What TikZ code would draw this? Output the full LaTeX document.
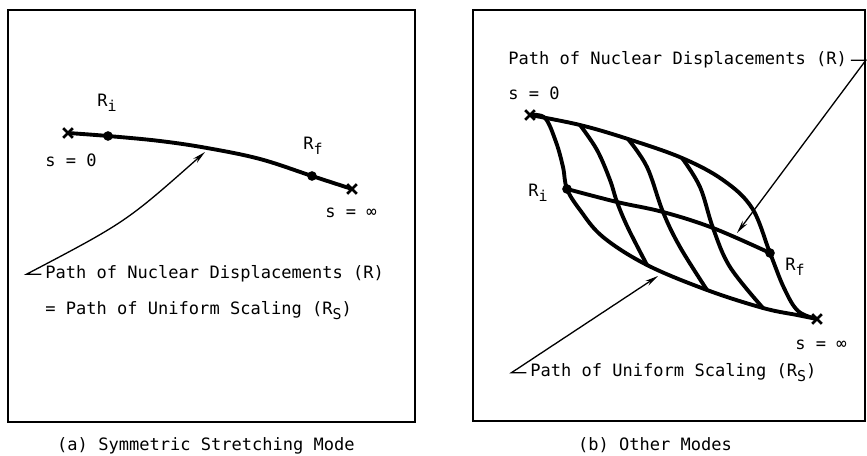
\documentclass[tikz,border=0pt]{standalone}
\usepackage{fontspec}
\newfontfamily\plotfont{DejaVu Sans Mono}
\usetikzlibrary{arrows.meta, shapes.misc}
\newcommand{\lowsub}[1]{\raisebox{-0.45ex}{\fontsize{8.5}{9}\selectfont #1}}

\begin{document}
\begin{tikzpicture}[x=0.02cm, y=-0.02cm, >={Stealth[length=7.5pt, width=3.2pt]},
    font=\plotfont\fontsize{9.7}{11}\selectfont,
    frame/.style={line width=1.7pt},
    track/.style={line width=2.2pt, line join=round, line cap=round},
    lead/.style={line width=0.75pt},
    dot/.style={circle, fill, inner sep=0pt, minimum size=5.5pt},
    xmark/.style={cross out, draw, line width=1.5pt, inner sep=0pt, minimum size=4pt},
    lbl/.style={anchor=base west, inner sep=0pt}]
\useasboundingbox (0,0) rectangle (867,456);

% (a) symmetric stretching
\draw[frame] (8,10) rectangle (415,422);
\coordinate (a0) at (68,133);
\coordinate (aRi) at (108,136);
\coordinate (aMid) at (207,148);
\coordinate (aRf) at (312,176);
\coordinate (a1) at (352,189);
\draw[track] plot[smooth, tension=0.6] coordinates {(a0) (aRi) (160,141) (aMid) (260,159) (aRf) (a1)};
\node[xmark] (a0x) at (a0) {};
\node[xmark] (a1x) at (a1) {};
\node[dot] (aRidot) at (aRi) {};
\node[dot] (aRfdot) at (aRf) {};

\node[lbl] (aRiLab) at (97,107) {R\lowsub{i}};
\node[lbl] (aRfLab) at (303,150) {R\lowsub{f}};
\node[lbl] (aS0) at (45,167) {s = 0};
\node[lbl] (aSinf) at (325,218) {s = ∞};
\node[lbl] (aLab1) at (45,279) {Path of Nuclear Displacements (R)};
\node[lbl] (aLab2) at (45,315) {= Path of Uniform Scaling (R\lowsub{S})};
\coordinate (aTip) at (205,152);
\draw[lead,->] ([xshift=-2pt]aLab1.west) -- ++(-15,0) coordinate (aKnee) .. controls (126,222) .. (aTip);

\node[anchor=base] (capA) at (206,451) {(a) Symmetric Stretching Mode};

% (b) other modes
\draw[frame] (473,10) rectangle (865,421);
\coordinate (bS) at (530,115);
\coordinate (bE) at (817,319);
\coordinate (bRi) at (567,189);
\coordinate (bRf) at (770,253);
\coordinate (T1) at (580,125);
\coordinate (T2) at (628,139);
\coordinate (T3) at (682,158);
\coordinate (C1) at (617,202);
\coordinate (C2) at (663,212);
\coordinate (C3) at (713,228);
\coordinate (B1) at (647,265);
\coordinate (B2) at (707,290);
\coordinate (B3) at (763,308);

\draw[track] plot[smooth, tension=0.6] coordinates {(bS) (545,118) (556,142) (563,167) (bRi) (580,210) (603,237) (B1) (B2) (B3) (797,315) (bE)};
\draw[track] plot[smooth, tension=0.6] coordinates {(bS) (T1) (T2) (T3) (723,180) (752,208) (bRf) (784,288) (798,311) (bE)};
\draw[track] plot[smooth, tension=0.6] coordinates {(bRi) (C1) (C2) (C3) (bRf)};
\draw[track] plot[smooth, tension=0.6] coordinates {(T1) (597,150) (610,180) (C1) (628,228) (B1)};
\draw[track] plot[smooth, tension=0.6] coordinates {(T2) (647,167) (C2) (680,247) (B2)};
\draw[track] plot[smooth, tension=0.6] coordinates {(T3) (700,187) (C3) (730,267) (B3)};
\node[xmark] (bSx) at (bS) {};
\node[xmark] (bEx) at (bE) {};
\node[dot] (bRidot) at (bRi) {};
\node[dot] (bRfdot) at (bRf) {};

\node[lbl] (bLabR) at (508,65) {Path of Nuclear Displacements (R)};
\node[lbl] (bS0) at (508,100) {s = 0};
\node[lbl] (bRiLab) at (528,197) {R\lowsub{i}};
\node[lbl] (bRfLab) at (785,271) {R\lowsub{f}};
\node[lbl] (bSinf) at (795,350) {s = ∞};
\node[lbl] (bLabS) at (530,377) {Path of Uniform Scaling (R\lowsub{S})};
\coordinate (bTipR) at (737,233);
\coordinate (bTipS) at (658,276);
\draw[lead,->] ([xshift=2pt]bLabR.east) -- ++(15,0) coordinate (bKneeR) -- (bTipR);
\draw[lead,->] ([xshift=-2pt]bLabS.west) -- ++(-15,0) coordinate (bKneeS) -- (bTipS);

\node[anchor=base] (capB) at (655,451) {(b) Other Modes};
\end{tikzpicture}
\end{document}
